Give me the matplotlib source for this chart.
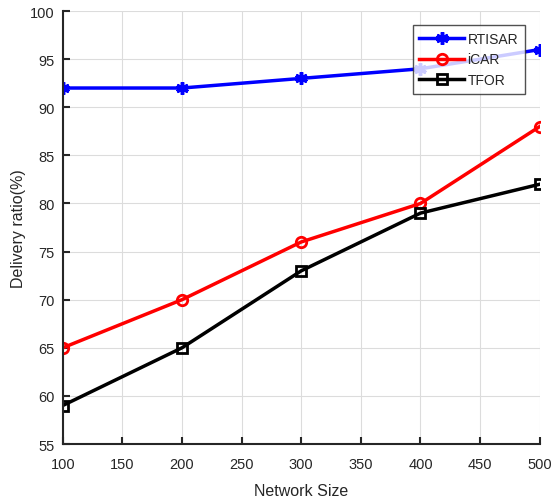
import numpy as np
import matplotlib
matplotlib.use("Agg")
from matplotlib import pyplot as plt

plt.rcParams['font.family'] = ['Liberation Sans', 'DejaVu Sans']

# data
network_size = [100, 200, 300, 400, 500]
rtisar = [92, 92, 93, 94, 96]
icar = [65, 70, 76, 80, 88]
tfor = [59, 65, 73, 79, 82]

txt = '#262626'

fig = plt.figure(figsize=(5.55, 5.02), dpi=100)
ax = fig.add_axes([0.113, 0.1135, 0.8595, 0.8625])

ax.plot(network_size, rtisar, color='#0000ff', lw=2.5, marker=(6, 2, 0),
        ms=9, mew=2.5, label='RTISAR')
ax.plot(network_size, icar, color='#ff0000', lw=2.5, marker='o',
        ms=7.5, mew=2, mfc='none', label='iCAR')
ax.plot(network_size, tfor, color='#000000', lw=2.5, marker='s',
        ms=6.5, mew=2, mfc='none', label='TFOR')

ax.set_xlim(100, 500)
ax.set_ylim(55, 100)
ax.set_xticks(np.arange(100, 501, 50))
ax.set_yticks(np.arange(55, 101, 5))
ax.grid(True, color='#dcdcdc', lw=0.8)
ax.set_axisbelow(True)

for s in ['top', 'right']:
    ax.spines[s].set_visible(False)
for s in ['left', 'bottom']:
    ax.spines[s].set_color(txt)
    ax.spines[s].set_linewidth(1.5)

ax.tick_params(direction='in', length=5, width=1.5, colors=txt,
               labelsize=10.5, pad=6)
ax.tick_params(axis='x', pad=9)
ax.set_xlabel('Network Size', fontsize=11.5, color=txt, labelpad=9)
ax.set_ylabel('Delivery ratio(%)', fontsize=11.5, color=txt, labelpad=3)

leg = ax.legend(loc='upper right', bbox_to_anchor=(0.969, 0.968),
                fontsize=10, handlelength=3.2, frameon=True, fancybox=False,
                borderpad=0.5, labelspacing=0.47, handletextpad=0.25,
                borderaxespad=0)
leg.get_frame().set_edgecolor(txt)
leg.get_frame().set_linewidth(1.0)
for t in leg.get_texts():
    t.set_color(txt)

fig.savefig('out.png', dpi=100)
